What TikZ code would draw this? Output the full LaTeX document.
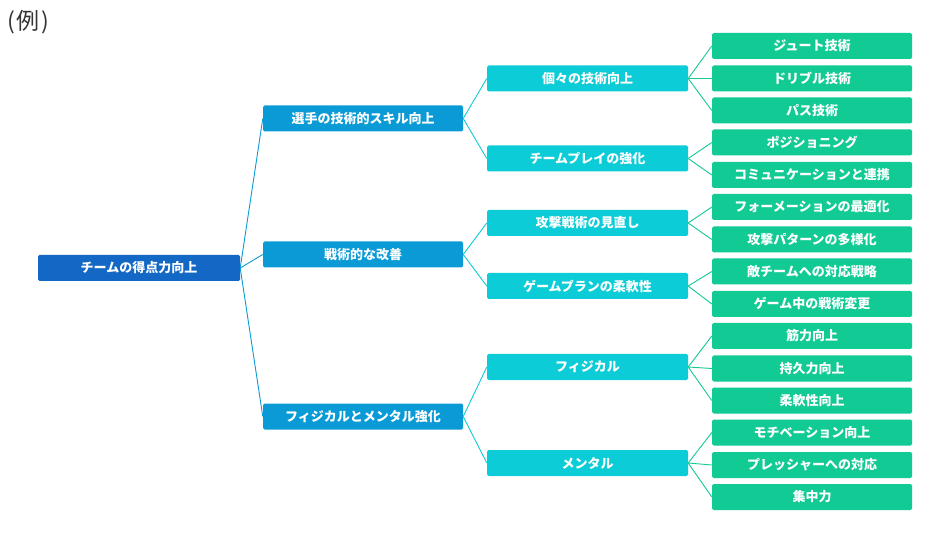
\documentclass[tikz,border=0pt]{standalone}
\usepackage{fontspec}
\setmainfont{Noto Sans CJK JP}
\definecolor{c0}{HTML}{1268C4}
\definecolor{c1}{HTML}{0A9BD6}
\definecolor{c2}{HTML}{0CCCD7}
\definecolor{c3}{HTML}{12CA94}
\definecolor{tg}{HTML}{333333}
\tikzset{
  bx/.style={minimum width=200pt, minimum height=26pt, rounded corners=1.5pt, text=white, font=\bfseries\fontsize{13}{15}\selectfont, inner sep=0pt},
  b0/.style={bx, fill=c0, minimum width=202pt},
  b1/.style={bx, fill=c1},
  b2/.style={bx, fill=c2, minimum width=201pt},
  b3/.style={bx, fill=c3},
  l1/.style={draw=c1, line width=0.9pt},
  l2/.style={draw=c2, line width=0.9pt},
  l3/.style={draw=c3, line width=0.9pt},
}
\begin{document}
\begin{tikzpicture}[x=1pt,y=-1pt]
\useasboundingbox (0,0) rectangle (950,534);
\node[anchor=west, text=tg, inner sep=0pt, font=\fontsize{23}{25}\selectfont] (title) at (7,22) {(\kern2pt 例\kern2pt)};
% root
\node[b0] (r) at (139,268) {チームの得点力向上};
% level 1
\node[b1] (a) at (363,118.5) {選手の技術的スキル向上};
\node[b1] (b) at (363,254.5) {戦術的な改善};
\node[b1] (c) at (363,416.5) {フィジカルとメンタル強化};
% level 2
\node[b2] (a1) at (587.5,78.5) {個々の技術向上};
\node[b2] (a2) at (587.5,158.5) {チームプレイの強化};
\node[b2] (b1) at (587.5,223) {攻撃戦術の見直し};
\node[b2] (b2) at (587.5,286) {ゲームプランの柔軟性};
\node[b2] (c1) at (587.5,367) {フィジカル};
\node[b2] (c2) at (587.5,463) {メンタル};
% level 3
\node[b3] (a11) at (812,46) {ジュート技術};
\node[b3] (a12) at (812,78.5) {ドリブル技術};
\node[b3] (a13) at (812,110.5) {パス技術};
\node[b3] (a21) at (812,142.5) {ポジショニング};
\node[b3] (a22) at (812,175) {コミュニケーションと連携};
\node[b3] (b11) at (812,207) {フォーメーションの最適化};
\node[b3] (b12) at (812,239.5) {攻撃パターンの多様化};
\node[b3] (b21) at (812,271.5) {敵チームへの対応戦略};
\node[b3] (b22) at (812,304) {ゲーム中の戦術変更};
\node[b3] (c11) at (812,336) {筋力向上};
\node[b3] (c12) at (812,368.5) {持久力向上};
\node[b3] (c13) at (812,400.5) {柔軟性向上};
\node[b3] (c21) at (812,432.5) {モチベーション向上};
\node[b3] (c22) at (812,465) {プレッシャーへの対応};
\node[b3] (c23) at (812,497) {集中力};
% connectors
\foreach \t in {a,b,c} \draw[l1] (r.east) -- (\t.west);
\foreach \t in {a1,a2} \draw[l2] (a.east) -- (\t.west);
\foreach \t in {b1,b2} \draw[l2] (b.east) -- (\t.west);
\foreach \t in {c1,c2} \draw[l2] (c.east) -- (\t.west);
\foreach \t in {a11,a12,a13} \draw[l3] (a1.east) -- (\t.west);
\foreach \t in {a21,a22} \draw[l3] (a2.east) -- (\t.west);
\foreach \t in {b11,b12} \draw[l3] (b1.east) -- (\t.west);
\foreach \t in {b21,b22} \draw[l3] (b2.east) -- (\t.west);
\foreach \t in {c11,c12,c13} \draw[l3] (c1.east) -- (\t.west);
\foreach \t in {c21,c22,c23} \draw[l3] (c2.east) -- (\t.west);
\end{tikzpicture}
\end{document}
